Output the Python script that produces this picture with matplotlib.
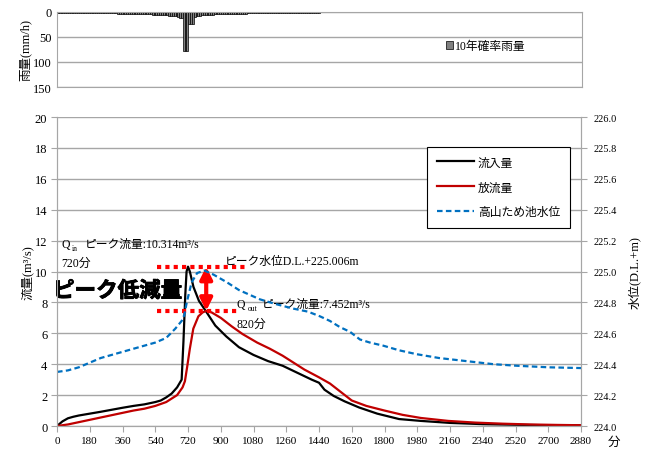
import matplotlib
matplotlib.use('Agg')
import numpy as np
import matplotlib.pyplot as plt
import matplotlib.patheffects as pe

plt.rcParams['font.family'] = ['Liberation Serif', 'Noto Sans CJK JP']

# 10-minute rainfall (mm/h), 0-1440 min
rain_step = 10
rain = [2, 2, 2, 2, 2, 2, 2, 2, 2, 2, 2, 2,
        2, 2, 2, 2, 3, 3, 3, 3, 3, 3, 3, 3,
        3, 3, 3, 3, 3, 3, 3, 3, 3, 4, 4, 4,
        4, 4, 4, 4, 4, 4, 4, 5, 5, 5, 5, 5,
        5, 5, 5, 5, 6, 6, 6, 6, 6, 7, 7, 7,
        7, 8, 8, 8, 9, 9, 10, 12, 12, 78, 78, 78,
        25, 25, 25, 10, 9, 8, 8, 7, 7, 7, 6, 6,
        6, 6, 5, 5, 5, 5, 5, 5, 4, 4, 4, 4,
        4, 4, 4, 4, 4, 4, 4, 4, 3, 3, 3, 3,
        3, 3, 3, 3, 3, 3, 3, 3, 3, 3, 3, 3,
        3, 3, 3, 3, 3, 3, 2, 2, 2, 2, 2, 2,
        2, 2, 2, 2, 2, 2, 2, 2, 2, 2, 2, 2]

# inflow (m3/s)
t_in = [0, 30, 60, 90, 120, 180, 240, 300, 360, 420, 480, 540, 570, 600, 630, 660,
        685, 695, 705, 712, 720, 730, 750, 780, 820, 870, 930, 1000, 1080, 1160,
        1240, 1320, 1400, 1440, 1470, 1520, 1580, 1660, 1760, 1880, 2000, 2160,
        2340, 2520, 2700, 2880]
q_in = [0, 0.3, 0.5, 0.6, 0.68, 0.8, 0.92, 1.05, 1.18, 1.3, 1.4, 1.55, 1.65, 1.85,
        2.1, 2.5, 3.0, 5.5, 8.5, 10.0, 10.314, 10.0, 9.0, 8.1, 7.4, 6.5, 5.8, 5.1,
        4.6, 4.2, 3.9, 3.45, 3.0, 2.8, 2.35, 1.95, 1.6, 1.2, 0.8, 0.45, 0.33, 0.2,
        0.12, 0.08, 0.05, 0.04]

# outflow (m3/s)
t_out = [0, 60, 120, 180, 240, 300, 360, 420, 480, 540, 600, 660, 690, 703, 715,
         730, 749, 777, 800, 820, 850, 900, 960, 1020, 1100, 1170, 1240, 1300,
         1360, 1440, 1500, 1560, 1620, 1700, 1800, 1900, 2000, 2150, 2300, 2450,
         2600, 2750, 2880]
q_out = [0, 0.1, 0.25, 0.4, 0.55, 0.7, 0.85, 1.0, 1.12, 1.3, 1.55, 2.0, 2.5, 2.9,
         3.8, 5.0, 6.3, 7.1, 7.35, 7.452, 7.35, 7.0, 6.45, 5.95, 5.4, 5.0, 4.55,
         4.1, 3.65, 3.15, 2.75, 2.2, 1.65, 1.3, 1.0, 0.72, 0.52, 0.33, 0.22, 0.15,
         0.1, 0.07, 0.05]

# pond water level (D.L. +m)
t_wl = [0, 60, 120, 180, 240, 300, 360, 420, 480, 540, 600, 650, 685, 700, 713,
        740, 770, 810, 860, 934, 1000, 1115, 1200, 1298, 1380, 1445, 1500, 1555,
        1610, 1665, 1720, 1793, 1880, 1976, 2100, 2250, 2400, 2527, 2700, 2880]
wl = [224.35, 224.36, 224.38, 224.41, 224.44, 224.46, 224.48, 224.50, 224.52,
      224.54, 224.57, 224.63, 224.68, 224.72, 224.80, 224.93, 224.99, 225.006,
      224.98, 224.93, 224.88, 224.82, 224.79, 224.76, 224.74, 224.71, 224.68,
      224.64, 224.61, 224.56, 224.54, 224.52, 224.49, 224.465, 224.44, 224.42,
      224.40, 224.39, 224.38, 224.375]

xticks = list(range(0, 2881, 180))
grid_c = '#a6a6a6'

fig = plt.figure(figsize=(6.45, 4.52), dpi=100)

# ---- rainfall (top) ----
axr = fig.add_axes([0.0884, 0.8053, 0.8140, 0.1666])
t_rain = np.arange(len(rain)) * rain_step
axr.bar(t_rain, rain, width=rain_step, align='edge', color='#808080',
        edgecolor='black', linewidth=0.5, label='10年確率雨量')
axr.set_xlim(0, 2880)
axr.set_ylim(150, 0)
axr.set_yticks([0, 50, 100, 150])
axr.set_xticks([])
axr.yaxis.grid(True, color=grid_c, lw=1)
axr.set_axisbelow(True)
for s in axr.spines.values():
    s.set_color(grid_c)
axr.tick_params(axis='y', length=0, labelsize=9, pad=4)
axr.set_ylabel('雨量(mm/h)', fontsize=9, labelpad=1)
axr.legend(loc='center left', bbox_to_anchor=(0.72, 0.545), frameon=False,
           fontsize=8.5, handlelength=0.6, handleheight=0.6, handletextpad=0.2)

# ---- hydrograph (bottom) ----
ax = fig.add_axes([0.0884, 0.0553, 0.8124, 0.6836])
ax2 = ax.twinx()
l1, = ax.plot(t_in, q_in, color='black', lw=1.6, label='流入量')
l2, = ax.plot(t_out, q_out, color='#c00000', lw=1.6, label='放流量')
l3, = ax2.plot(t_wl, wl, color='#0070c0', lw=1.6, dashes=(2.5, 1.5),
               label='高山ため池水位')

ax.set_xlim(0, 2880)
ax.set_ylim(0, 20)
ax.set_xticks(xticks)
ax.set_yticks(range(0, 21, 2))
ax2.set_ylim(224.0, 226.0)
ax2.set_yticks(np.arange(224.0, 226.01, 0.2))
ax2.set_yticklabels([f'{v:.1f}' for v in np.arange(224.0, 226.01, 0.2)])
ax.yaxis.grid(True, color=grid_c, lw=1)
ax.set_axisbelow(True)
for a in (ax, ax2):
    a.spines['top'].set_visible(False)
    for s in ('left', 'right', 'bottom'):
        a.spines[s].set_color(grid_c)
ax.tick_params(axis='y', length=4, color=grid_c, labelsize=9, pad=3)
ax.tick_params(axis='x', length=4, color=grid_c, labelsize=8, pad=3)
ax2.tick_params(axis='y', length=4, color=grid_c, labelsize=7.5, pad=5)
ax.set_ylabel('流量(m³/s)', fontsize=9, labelpad=1)
ax2.set_ylabel('水位(D.L.+m)', fontsize=9, rotation=90, labelpad=8)
ax.text(1.063, -0.05, '分', transform=ax.transAxes, fontsize=9,
        ha='center', va='center')

# peak markers
ax.hlines(10.314, 550, 1050, color='#ff0000', lw=3, linestyles=(0, (1, 1)))
ax.hlines(7.452, 550, 990, color='#ff0000', lw=3, linestyles=(0, (1, 1)))
ax.annotate('', xy=(820, 7.452), xytext=(820, 10.314),
            arrowprops=dict(arrowstyle='<|-|>', color='#ff0000', lw=3,
                            mutation_scale=18, shrinkA=0, shrinkB=0))

# annotations
fs = 8.5
ax.text(25, 11.8, 'Q', fontsize=fs, va='center')
ax.text(80, 11.55, 'in', fontsize=5.5, va='center')
ax.text(155, 11.8, 'ピーク流量:10.314m³/s', fontsize=fs, va='center')
ax.text(25, 10.55, '720分', fontsize=fs, va='center')
ax.text(923, 10.7, 'ピーク水位D.L.+225.006m', fontsize=fs, va='center')
ax.text(989, 7.9, 'Q', fontsize=fs, va='center')
ax.text(1049, 7.65, 'out', fontsize=5.5, va='center')
ax.text(1126, 7.9, 'ピーク流量:7.452m³/s', fontsize=fs, va='center')
ax.text(989, 6.6, '820分', fontsize=fs, va='center')
ax.text(-22, 8.67, 'ピーク低減量', fontsize=15.5, fontweight='bold',
        va='center', ha='left', clip_on=False,
        path_effects=[pe.withStroke(linewidth=3.5, foreground='white'),
                      pe.Stroke(linewidth=0.6, foreground='black'),
                      pe.Normal()])

leg = ax2.legend(handles=[l1, l2, l3], loc='upper left',
                 bbox_to_anchor=(0.695, 0.922), fontsize=8.5, frameon=True,
                 fancybox=False, edgecolor='black', framealpha=1,
                 handlelength=3.2, labelspacing=1.1, borderpad=0.8,
                 handletextpad=0.3)
leg.get_frame().set_linewidth(0.8)

plt.savefig('out.png', dpi=100)
